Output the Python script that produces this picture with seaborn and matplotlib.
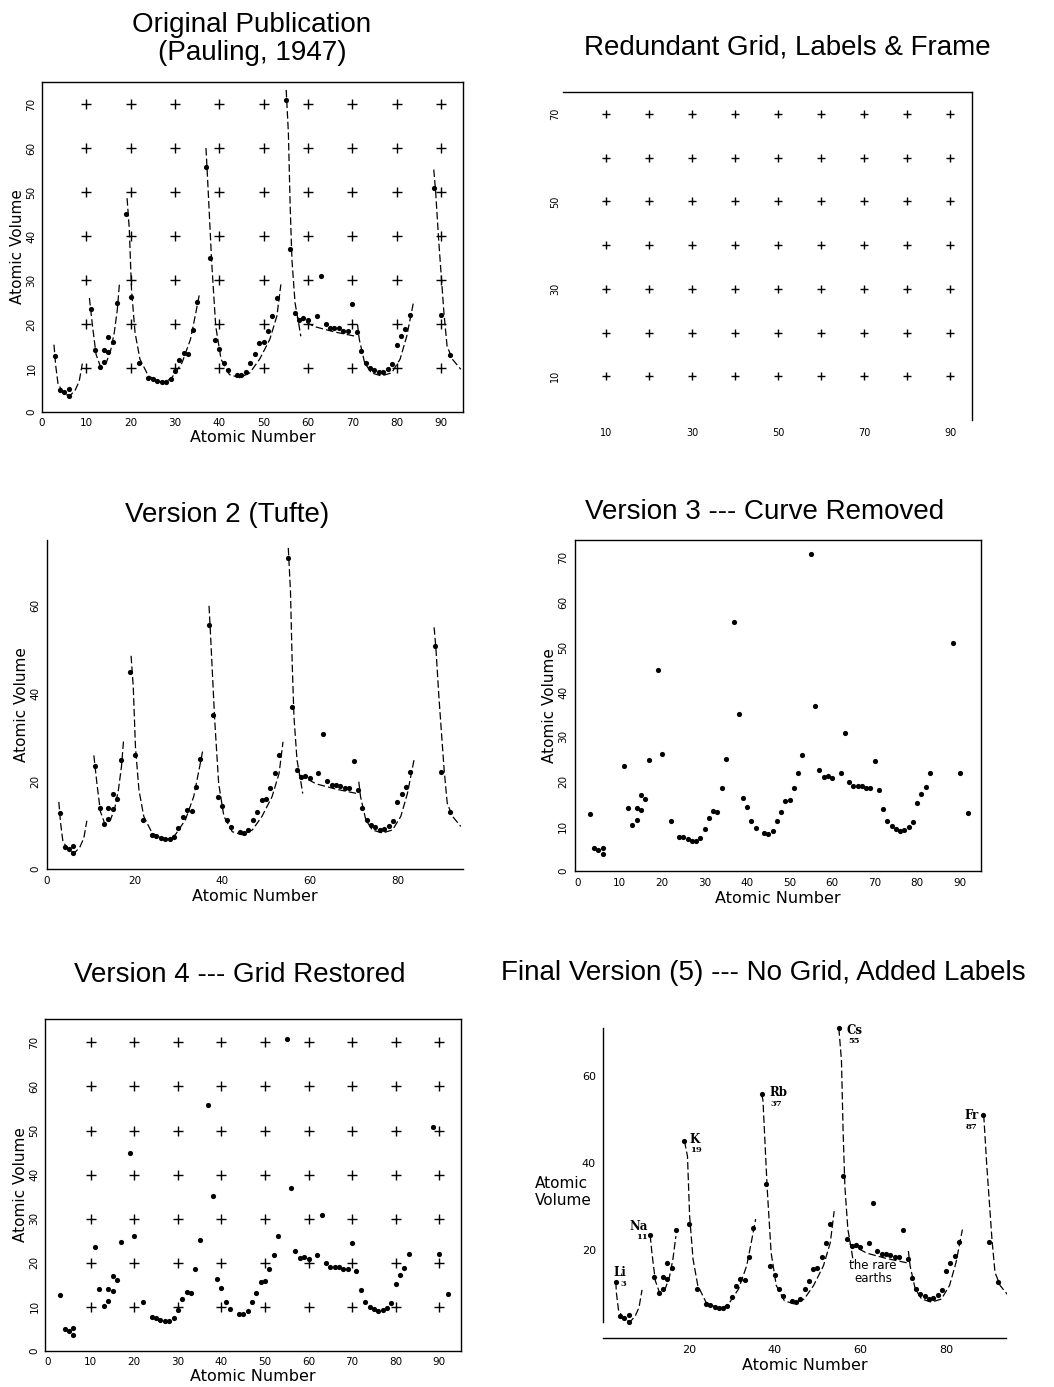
import numpy as np
import pandas as pd
import matplotlib
matplotlib.use("Agg")
import matplotlib.pyplot as plt
import seaborn as sns

sns.set_style("white")
plt.rcParams['font.family'] = ['DejaVu Sans']
plt.rcParams['axes.edgecolor'] = 'black'
plt.rcParams['axes.linewidth'] = 1.0
plt.rcParams['text.color'] = 'black'
plt.rcParams['axes.labelcolor'] = 'black'
plt.rcParams['xtick.color'] = 'black'
plt.rcParams['ytick.color'] = 'black'

# atomic number vs atomic volume
atomic_number = [3, 4, 5, 6, 6, 11, 12, 13, 14, 14, 15, 15, 16, 17, 19, 20, 22,
                 24, 25, 26, 27, 28, 29, 30, 31, 32, 33, 34, 35, 37, 38, 39, 40,
                 41, 42, 44, 45, 46, 47, 48, 49, 50, 51, 52, 53, 55, 56, 57, 58,
                 59, 60, 62, 63, 64, 65, 66, 67, 68, 69, 70, 71, 72, 73, 74, 75,
                 76, 77, 78, 79, 80, 81, 82, 83, 88.5, 90, 92]
atomic_volume = [12.8, 5.1, 4.6, 5.2, 3.7, 23.5, 14.0, 10.3, 11.3, 14.0, 13.6, 17.1, 16.0, 24.8, 45.0, 26.1, 11.1,
                 7.7, 7.5, 7.1, 6.8, 6.8, 7.4, 9.4, 11.8, 13.4, 13.2, 18.6, 25.1, 55.7, 35.1, 16.4, 14.4,
                 11.2, 9.6, 8.4, 8.3, 9.0, 11.1, 13.1, 15.7, 15.9, 18.5, 21.8, 26.0, 70.8, 37.0, 22.6, 21.0,
                 21.3, 20.8, 21.8, 30.8, 20.0, 19.1, 19.1, 19.0, 18.5, 18.5, 24.6, 18.1, 13.8, 11.2, 10.0, 9.5,
                 9.0, 9.2, 9.8, 11.0, 15.3, 17.2, 18.8, 22.0, 50.9, 22.0, 12.9]

# dashed curves of the original drawing, one piece per period
curve_li = [(2.7, 15.3), (3.1, 10.5), (3.6, 6.5), (4.4, 5.0), (5.5, 3.9), (6.5, 3.9), (7.5, 5.0), (8.4, 7.0), (9.1, 11.0)]
curve_na = [(10.7, 25.9), (11.4, 19.5), (12.2, 13.1), (13.2, 10.3), (14.5, 11.2), (15.5, 14.0), (16.3, 18.0), (17.0, 23.3), (17.5, 29.5)]
curve_k = [(19.2, 48.6), (19.7, 41.5), (20.2, 27.8), (21.0, 18.0), (22.1, 12.0), (24.0, 8.2), (26.3, 7.0), (27.8, 6.8),
           (29.3, 7.8), (31.6, 11.2), (33.5, 16.5), (34.7, 22.5), (35.6, 27.2)]
curve_rb = [(37.0, 60.0), (37.3, 54.3), (38.3, 33.9), (39.2, 19.5), (40.4, 12.0), (42.3, 8.5), (44.6, 7.8), (46.9, 8.9),
            (49.1, 12.0), (51.4, 16.5), (53.0, 21.8), (53.9, 29.0)]
curve_cs = [(55.1, 73.2), (55.6, 63.4), (56.0, 46.7), (56.4, 34.6), (57.1, 24.8), (57.9, 20.3), (58.4, 17.2)]
curve_rare = [(57.5, 21.5), (61.5, 19.4), (66.0, 18.2), (70.8, 17.2)]
curve_hf = [(71.2, 19.9), (71.6, 16.5), (72.8, 11.2), (74.3, 8.9), (76.6, 8.2), (78.9, 8.9), (80.8, 12.0), (82.3, 17.2), (83.8, 24.8)]
curve_fr = [(88.4, 55.1), (88.8, 50.5), (89.5, 39.2), (90.7, 22.5), (91.4, 15.0), (92.6, 12.0), (94.5, 9.7)]

curve_names = ['Li', 'Na', 'K', 'Rb', 'Cs', 'rare', 'Hf', 'Fr']
curve_pieces = [curve_li, curve_na, curve_k, curve_rb, curve_cs, curve_rare, curve_hf, curve_fr]

# labels of the final version
label_names = ['Li', 'Na', 'K', 'Rb', 'Cs', 'Fr']
label_numbers = ['3', '11', '19', '37', '55', '87']
label_z = [3, 11, 19, 37, 55, 88.5]

# grid of crosses
grid_x = [10, 20, 30, 40, 50, 60, 70, 80, 90]
grid_y = [10, 20, 30, 40, 50, 60, 70]

elements = pd.DataFrame({'Z': atomic_number, 'V': atomic_volume})
curve_df = pd.DataFrame([(n, x, y) for n, pc in zip(curve_names, curve_pieces) for x, y in pc],
                        columns=['seg', 'x', 'y'])
gx, gy = np.meshgrid(grid_x, grid_y)
grid_df = pd.DataFrame({'x': gx.ravel(), 'y': gy.ravel()})

# final version: curves start at the alkali metal dot
final_rows = []
for n, pc in zip(curve_names, curve_pieces):
    if n in label_names:
        z = label_z[label_names.index(n)]
        top = elements.loc[elements.Z == z, 'V'].iloc[0]
        final_rows.append((n, z, top))
        final_rows += [(n, x, y) for x, y in pc if y < top]
    else:
        final_rows += [(n, x, y) for x, y in pc]
final_curve_df = pd.DataFrame(final_rows, columns=['seg', 'x', 'y'])

W, H = 1054, 1387
fig = plt.figure(figsize=(W / 100, H / 100), dpi=100)


def panel(l, t, r, b):
    return fig.add_axes([l / W, 1 - b / H, (r - l) / W, (b - t) / H])


def dots(ax):
    sns.scatterplot(data=elements, x='Z', y='V', color='k', s=14, linewidth=0,
                    ax=ax, legend=False, clip_on=False, zorder=3)


def curves(ax, df):
    sns.lineplot(data=df, x='x', y='y', units='seg', estimator=None, sort=False,
                 color='k', lw=0.9, linestyle=(0, (6, 2.5)), ax=ax, legend=False)


def crosses(ax, s):
    sns.scatterplot(data=grid_df, x='x', y='y', marker='+', s=s, color='k',
                    linewidth=1.0, ax=ax, legend=False)


def labels(ax, rot_y=True):
    ax.set_xlabel('Atomic Number', fontsize=11.5, labelpad=2)
    ax.set_ylabel('Atomic Volume', fontsize=11, labelpad=1)
    ax.tick_params(labelsize=7.5)
    if rot_y:
        ax.tick_params(axis='y', labelrotation=90)
        for lab in ax.get_yticklabels():
            lab.set_va('center')


def title(x, y, text):
    fig.text(x / W, 1 - y / H, text, ha='center', va='center', fontsize=20,
             family='Liberation Sans', linespacing=1.1)


# 1 original
ax1 = panel(42, 82, 463, 412)
crosses(ax1, 45)
curves(ax1, curve_df)
dots(ax1)
ax1.set_xlim(0, 95)
ax1.set_ylim(0, 75)
ax1.set_xticks(range(0, 91, 10))
ax1.set_yticks(range(0, 71, 10))
ax1.tick_params(length=0, pad=4)
labels(ax1)
title(252, 39, 'Original Publication\n(Pauling, 1947)')

# 2 redundant grid, labels & frame
ax2 = panel(563, 92, 972, 420)
crosses(ax2, 26)
ax2.set_xlim(0, 95)
ax2.set_ylim(0, 75)
ax2.set_xticks([10, 30, 50, 70, 90])
ax2.set_yticks([10, 30, 50, 70])
ax2.spines['left'].set_visible(False)
ax2.spines['bottom'].set_visible(False)
ax2.tick_params(length=0, labelsize=7, pad=6)
ax2.tick_params(axis='y', labelrotation=90, pad=2)
for lab in ax2.get_yticklabels():
    lab.set_va('center')
ax2.set_xlabel('')
ax2.set_ylabel('')
title(787, 47, 'Redundant Grid, Labels & Frame')

# 3 Tufte version 2
ax3 = panel(47, 540, 463, 869)
curves(ax3, curve_df)
dots(ax3)
ax3.set_xlim(0, 95)
ax3.set_ylim(0, 75)
ax3.set_xticks([0, 20, 40, 60, 80])
ax3.set_yticks([0, 20, 40, 60])
sns.despine(ax=ax3)
ax3.tick_params(length=2, width=0.8, direction='out', pad=3)
labels(ax3)
title(227, 515, 'Version 2 (Tufte)')

# 4 curve removed
ax4 = panel(575, 540, 981, 871)
dots(ax4)
ax4.set_xlim(-0.5, 95)
ax4.set_ylim(0, 74)
ax4.set_xticks(range(0, 91, 10))
ax4.set_yticks(range(0, 71, 10))
ax4.tick_params(length=0, pad=5)
labels(ax4)
title(765, 512, 'Version 3 --- Curve Removed')

# 5 grid restored
ax5 = panel(45, 1019, 461, 1351)
crosses(ax5, 45)
dots(ax5)
ax5.set_xlim(-0.5, 95)
ax5.set_ylim(0, 75.3)
ax5.set_xticks(range(0, 91, 10))
ax5.set_yticks(range(0, 71, 10))
ax5.tick_params(length=0, pad=4)
labels(ax5)
title(240, 975, 'Version 4 --- Grid Restored')

# 6 final version
ax6 = panel(603, 1023, 1007, 1338)
curves(ax6, final_curve_df)
dots(ax6)
ax6.set_xlim(0, 94.2)
ax6.set_ylim(0, 72)
sns.despine(ax=ax6)
ax6.spines['left'].set_bounds(elements.V.min(), elements.V.max())
ax6.spines['bottom'].set_bounds(0, 94)
ax6.set_xticks([20, 40, 60, 80])
ax6.set_xticks(range(10, 91, 10), minor=True)
ax6.set_yticks([20, 40, 60])
ax6.set_yticks([10, 30, 50, 70], minor=True)
ax6.tick_params(which='both', direction='in', length=3, width=0.8, labelsize=8, pad=5)
ax6.set_xlabel('Atomic Number', fontsize=11.5, labelpad=2)
ax6.set_ylabel('Atomic\nVolume', fontsize=11, rotation=0, ha='left', va='center',
               multialignment='left')
ax6.yaxis.set_label_coords(-0.168, 0.463)

name_offsets = [(3, 7), (-8.5, 6.5), (7, 1.5), (12, 1.2), (11, -1.4), (-8, 0)]
number_offsets = [(5.5, -1.2), (-6, -1.2), (8.4, -6.5), (10.4, -7.2), (11.3, -9.1), (-8, -8.6)]
for name, num, z, no, uo in zip(label_names, label_numbers, label_z, name_offsets, number_offsets):
    v = elements.loc[elements.Z == z, 'V'].iloc[0]
    ax6.annotate(name, (z, v), xytext=no, textcoords='offset points', ha='center', va='center',
                 fontsize=8.5, family='DejaVu Serif', fontweight='bold')
    ax6.annotate(num, (z, v), xytext=uo, textcoords='offset points', ha='center', va='center',
                 fontsize=6, family='DejaVu Serif', fontweight='bold')
ax6.text(63, 15, 'the rare\nearths', ha='center', va='center', fontsize=8.5, linespacing=1.0)
title(763, 973, 'Final Version (5) --- No Grid, Added Labels')

fig.savefig('out.png', dpi=100, facecolor='white')
